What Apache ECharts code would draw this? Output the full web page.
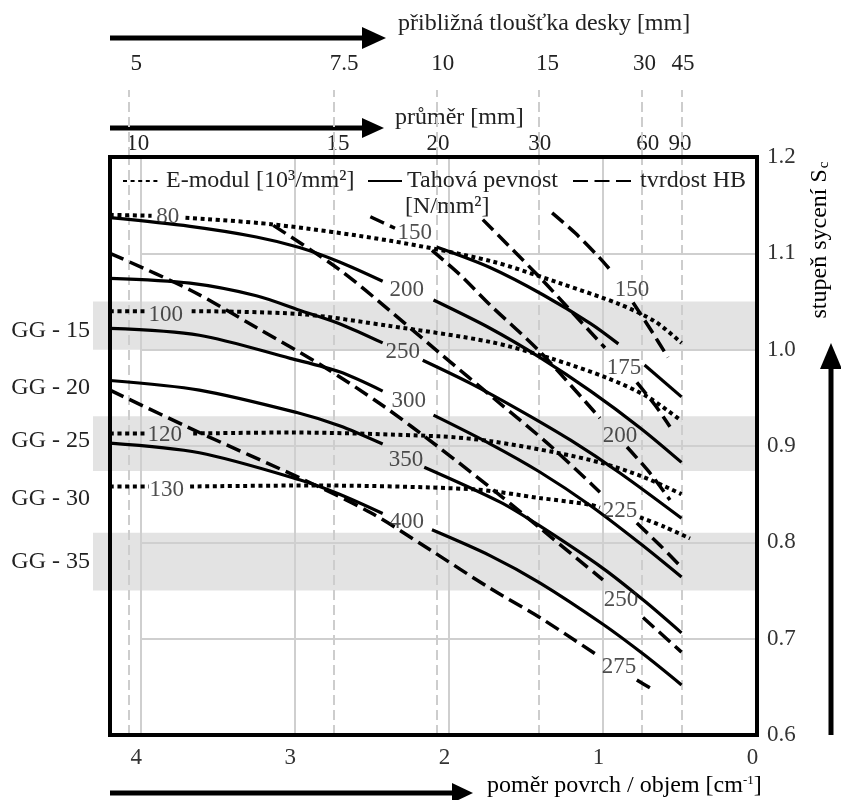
<!DOCTYPE html>
<html><head><meta charset="utf-8">
<script src="https://cdn.jsdelivr.net/npm/echarts@6/dist/echarts.min.js"></script>
<style>html,body{margin:0;padding:0;background:#fff}#c{width:841px;height:800px}</style>
</head><body><div id="c"></div>
<script>
// ---------- axes / ticks ----------
const xTicks = [4, 3, 2, 1, 0];
const gridX = [4, 3, 2, 1];
const gridY = [1.1, 1.0, 0.9, 0.8, 0.7];
const sizeLinePos = [4.08, 2.75, 2.08, 1.42, 0.75, 0.49];
const plateThickness = ['5', '7.5', '10', '15', '30', '45'];
const plateLabelPos = [4.03, 2.68, 2.04, 1.36, 0.73, 0.48];
const diameters = ['10', '15', '20', '30', '60', '90'];
const diameterLabelPos = [4.02, 2.72, 2.07, 1.41, 0.71, 0.50];
const gradeNames = ['GG - 15', 'GG - 20', 'GG - 25', 'GG - 30', 'GG - 35'];
const gradeLabelY = [1.02, 0.96, 0.905, 0.845, 0.78];
const gradeBands = [[1.0, 1.05], [0.874, 0.931], [0.75, 0.81]];

// ---------- E-modul (dotted) ----------
const eModul80 = [
  [[4.20,1.140],[3.93,1.139]],
  [[3.71,1.137],[3.14,1.130],[2.38,1.113],[1.73,1.092],[1.28,1.069],[0.89,1.047],[0.66,1.029],[0.49,1.007]]
];
const eModul100 = [
  [[4.20,1.040],[3.97,1.040]],
  [[3.67,1.040],[2.97,1.037],[2.38,1.0245],[1.73,1.008],[1.34,0.991],[0.97,0.9705],[0.71,0.951],[0.49,0.926]]
];
const eModul120 = [
  [[4.20,0.913],[3.97,0.913]],
  [[3.66,0.913],[3.03,0.914],[2.06,0.910],[1.73,0.905],[1.30,0.893],[1.00,0.882],[0.74,0.868],[0.49,0.850]]
];
const eModul130 = [
  [[4.20,0.858],[3.95,0.858]],
  [[3.68,0.858],[2.90,0.859],[1.84,0.855],[1.41,0.846],[1.08,0.839],[1.02,0.836]],
  [[0.76,0.826],[0.60,0.816],[0.435,0.804]]
];
const eModulLabels = ['80', '100', '120', '130'];
const eModulLabelPos = [[3.825,1.138],[3.838,1.036],[3.844,0.911],[3.831,0.854]];

// ---------- Tensile strength (solid) ----------
const tensile150 = [
  [[2.08,1.1065],[1.73,1.085],[1.39,1.057],[1.08,1.027],[0.90,1.006]],
  [[0.73,0.984],[0.49,0.951]]
];
const tensile200 = [
  [[4.20,1.137],[3.68,1.128],[3.25,1.117],[2.97,1.106],[2.71,1.091],[2.43,1.071]],
  [[2.10,1.0515],[1.73,1.022],[1.41,0.992],[1.08,0.957],[0.76,0.919],[0.49,0.883]]
];
const tensile250 = [
  [[4.20,1.074],[3.68,1.069],[3.25,1.056],[2.97,1.041],[2.71,1.027],[2.43,1.007]],
  [[2.17,0.989],[1.86,0.965],[1.54,0.937],[1.21,0.906],[0.89,0.872],[0.49,0.825]]
];
const tensile300 = [
  [[4.20,1.022],[3.62,1.015],[3.03,0.991],[2.71,0.977],[2.43,0.957]],
  [[2.10,0.932],[1.73,0.902],[1.41,0.873],[1.08,0.838],[0.76,0.799],[0.49,0.764]]
];
const tensile350 = [
  [[4.20,0.968],[3.62,0.958],[2.97,0.934],[2.71,0.921],[2.43,0.902]],
  [[2.16,0.878],[1.67,0.842],[1.41,0.817],[1.00,0.773],[0.73,0.739],[0.49,0.706]]
];
const tensile400 = [
  [[4.20,0.903],[3.62,0.893],[2.97,0.865],[2.71,0.850],[2.43,0.830]],
  [[2.11,0.813],[1.73,0.786],[1.41,0.758],[1.00,0.715],[0.73,0.683],[0.49,0.652]]
];
const tensileLabels = ['150', '200', '250', '300', '350', '400'];
const tensileLabelPos = [[2.221,1.121],[2.273,1.062],[2.299,0.998],[2.260,0.947],[2.279,0.886],[2.273,0.821]];

// ---------- Hardness HB (dashed) ----------
const hardness150 = [
  [[1.33,1.142],[1.18,1.121],[1.02,1.095],[0.935,1.0795]],
  [[0.805,1.049],[0.695,1.022],[0.578,0.992]]
];
const hardness175 = [
  [[1.78,1.135],[1.41,1.075],[1.195,1.038],[0.987,1.002]],
  [[0.78,0.966],[0.66,0.942],[0.565,0.920]]
];
const hardness200 = [
  [[2.51,1.138],[2.35,1.126]],
  [[2.11,1.103],[1.93,1.078],[1.73,1.046],[1.41,0.998],[1.02,0.929]],
  [[0.844,0.899],[0.695,0.872],[0.565,0.844]]
];
const hardness225 = [
  [[3.14,1.129],[2.71,1.083],[2.38,1.040],[2.06,0.9965],[1.69,0.947],[1.34,0.900],[1.02,0.852]],
  [[0.78,0.820],[0.63,0.797],[0.49,0.774]]
];
const hardness250 = [
  [[4.20,1.100],[3.68,1.062],[3.25,1.023],[2.82,0.983],[2.43,0.942],[2.06,0.898],[1.67,0.849],[1.41,0.815],[1.00,0.761]],
  [[0.74,0.722],[0.49,0.686]]
];
const hardness275 = [
  [[4.20,0.958],[3.62,0.914],[2.97,0.867],[2.51,0.831],[2.12,0.792],[1.73,0.752],[1.41,0.722],[1.02,0.681]],
  [[0.78,0.657],[0.695,0.649]]
];
const hardnessLabels = ['150', '175', '200', '225', '250', '275'];
const hardnessLabelPos = [[0.812,1.062],[0.864,0.981],[0.890,0.910],[0.890,0.833],[0.883,0.740],[0.896,0.671]];

// ---------- build ----------
const FONT = 'Liberation Serif';
const TXT = '#222';
const E_NAME = 'E-modul [10³/mm²]';
const T_NAME = 'Tahová pevnost';
const H_NAME = 'tvrdost HB';

const dottedStyle = {color: '#000', width: 4, type: [4, 3.6], cap: 'butt'};
const solidStyle = {color: '#000', width: 3.2, type: 'solid'};
const dashedStyle = {color: '#000', width: 3.5, type: [15, 6.5], cap: 'butt'};

function lookup(arr, names) {
  return function (v) {
    const i = arr.findIndex(p => Math.abs(p - v) < 1e-6);
    return i >= 0 ? names[i] : '';
  };
}

const series = [];
series.push({
  name: '_bands', type: 'line', xAxisIndex: 3, yAxisIndex: 2, data: [[0, 0.6], [1, 0.6]],
  symbol: 'none', lineStyle: {opacity: 0}, silent: true, z: 1,
  markArea: {silent: true, z: 1, itemStyle: {color: '#e3e3e3'},
    data: gradeBands.map(b => [{yAxis: b[0]}, {yAxis: b[1]}])}
});
const gridSolid = {color: '#cfcfcf', width: 2, type: 'solid'};
const gridDashed = {color: '#cdcdcd', width: 2, type: [10, 5]};
series.push({
  name: '_grid', type: 'line', xAxisIndex: 0, yAxisIndex: 0, data: [[0, 0.6]],
  symbol: 'none', lineStyle: {opacity: 0}, silent: true, z: 2,
  markLine: {silent: true, z: 2, symbol: ['none', 'none'], label: {show: false}, animation: false,
    data: [].concat(
      gridX.map(v => ({xAxis: v, lineStyle: gridSolid})),
      gridY.map(v => [{coord: [4, v], lineStyle: gridSolid}, {coord: [0, v]}]),
      sizeLinePos.map(v => ({xAxis: v, lineStyle: gridDashed}))
    )}
});
series.push({
  name: '_gridTop', type: 'line', xAxisIndex: 1, yAxisIndex: 1, data: [[0, 0]],
  symbol: 'none', lineStyle: {opacity: 0}, silent: true, z: 2,
  markLine: {silent: true, z: 2, symbol: ['none', 'none'], label: {show: false}, animation: false,
    data: sizeLinePos.map(v => ({xAxis: v, lineStyle: gridDashed}))}
});

function addGroup(name, lines, style) {
  lines.forEach(line => line.forEach(seg => {
    series.push({
      name: name, type: 'line', xAxisIndex: 0, yAxisIndex: 0, data: seg,
      symbol: 'none', smooth: 0.3, lineStyle: style, silent: true, z: 3
    });
  }));
}
addGroup(E_NAME, [eModul80, eModul100, eModul120, eModul130], dottedStyle);
addGroup(T_NAME, [tensile150, tensile200, tensile250, tensile300, tensile350, tensile400], solidStyle);
addGroup(H_NAME, [hardness150, hardness175, hardness200, hardness225, hardness250, hardness275], dashedStyle);

function addLabels(names, pos) {
  series.push({
    name: '_labels', type: 'scatter', xAxisIndex: 0, yAxisIndex: 0, z: 4, silent: true,
    symbolSize: 1, itemStyle: {color: 'rgba(0,0,0,0)'},
    label: {show: true, position: 'inside', formatter: '{b}', fontFamily: FONT, fontSize: 23, color: TXT},
    data: names.map((n, i) => ({name: n, value: pos[i]}))
  });
}
addLabels(eModulLabels, eModulLabelPos);
addLabels(tensileLabels, tensileLabelPos);
addLabels(hardnessLabels, hardnessLabelPos);

const legendBase = {
  orient: 'horizontal', padding: 0, itemGap: 0, itemHeight: 12, selectedMode: false,
  textStyle: {fontFamily: FONT, fontSize: 24, color: TXT},
  itemStyle: {color: 'rgba(0,0,0,0)', borderWidth: 0}
};

const option = {
  backgroundColor: '#fff',
  animation: false,
  textStyle: {fontFamily: FONT},
  grid: [
    {left: 110, right: 84, top: 157, bottom: 65, show: true, borderColor: '#000', borderWidth: 4, backgroundColor: 'transparent', z: 5},
    {left: 110, right: 84, top: 90, height: 67, show: false},
    {left: 93, right: 85, top: 157, bottom: 65, show: false}
  ],
  xAxis: [
    {gridIndex: 0, type: 'value', min: 0, max: 4.2, inverse: true, position: 'bottom',
      axisLine: {show: false}, axisTick: {show: false}, splitLine: {show: false},
      axisLabel: {customValues: xTicks, margin: 11, fontSize: 23, color: '#333', fontFamily: FONT, padding: [0, 9, 0, 0]}},
    {gridIndex: 1, type: 'value', min: 0, max: 4.2, inverse: true, position: 'top',
      axisLine: {show: true, lineStyle: {color: '#000', width: 4}}, axisTick: {show: false}, splitLine: {show: false},
      axisLabel: {customValues: plateLabelPos, formatter: lookup(plateLabelPos, plateThickness), margin: 15, fontSize: 23, color: TXT, fontFamily: FONT}},
    {gridIndex: 1, type: 'value', min: 0, max: 4.2, inverse: true, position: 'bottom',
      axisLine: {show: false}, axisTick: {show: false}, splitLine: {show: false},
      axisLabel: {inside: true, customValues: diameterLabelPos, formatter: lookup(diameterLabelPos, diameters), margin: 2, fontSize: 23, color: TXT, fontFamily: FONT}},
    {gridIndex: 2, type: 'value', min: 0, max: 1, show: false}
  ],
  yAxis: [
    {gridIndex: 0, type: 'value', min: 0.6, max: 1.2, interval: 0.1, position: 'right',
      axisLine: {show: false}, axisTick: {show: false}, splitLine: {show: false},
      axisLabel: {margin: 10, fontSize: 23, color: '#333', fontFamily: FONT, formatter: v => v.toFixed(1)}},
    {gridIndex: 1, type: 'value', min: 0, max: 1, show: false},
    {gridIndex: 2, type: 'value', min: 0.6, max: 1.2, position: 'left',
      axisLine: {show: false}, axisTick: {show: false}, splitLine: {show: false},
      axisLabel: {customValues: gradeLabelY, formatter: lookup(gradeLabelY, gradeNames), margin: 3, fontSize: 24, color: TXT, fontFamily: FONT}}
  ],
  legend: [
    Object.assign({}, legendBase, {data: [E_NAME], left: 122, top: 169, itemWidth: 38}),
    Object.assign({}, legendBase, {data: [T_NAME], left: 367, top: 169, itemWidth: 34}),
    Object.assign({}, legendBase, {data: [H_NAME], left: 572, top: 169, itemWidth: 62})
  ],
  graphic: [
    {type: 'text', x: 405, y: 207, style: {text: '[N/mm²]', font: '24px "Liberation Serif"', fill: TXT, textVerticalAlign: 'middle'}},
    {type: 'text', x: 398, y: 24, style: {text: 'přibližná tloušťka desky [mm]', font: '24px "Liberation Serif"', fill: TXT, textVerticalAlign: 'middle'}},
    {type: 'text', x: 395, y: 118, style: {text: 'průměr [mm]', font: '24px "Liberation Serif"', fill: TXT, textVerticalAlign: 'middle'}},
    {type: 'text', x: 487, y: 786, style: {
      text: '{a|poměr povrch / objem [cm}{s|-1}{a|]}', textVerticalAlign: 'middle',
      rich: {a: {fontFamily: FONT, fontSize: 24, color: TXT}, s: {fontFamily: FONT, fontSize: 13, color: TXT, verticalAlign: 'top', padding: [0, 0, 10, 0]}}}},
    {type: 'text', x: 820, y: 240, rotation: Math.PI / 2, style: {
      text: '{a|stupeň sycení S}{s|c}', textAlign: 'center', textVerticalAlign: 'middle',
      rich: {a: {fontFamily: FONT, fontSize: 24, color: TXT}, s: {fontFamily: FONT, fontSize: 15, color: TXT, verticalAlign: 'bottom', padding: [8, 0, 0, 1]}}}},
    {type: 'line', shape: {x1: 110, y1: 38, x2: 366, y2: 38}, style: {stroke: '#000', lineWidth: 5}},
    {type: 'polygon', shape: {points: [[362, 27], [386, 38], [362, 49]]}, style: {fill: '#000'}},
    {type: 'line', shape: {x1: 110, y1: 128, x2: 366, y2: 128}, style: {stroke: '#000', lineWidth: 5}},
    {type: 'polygon', shape: {points: [[362, 118], [384, 128], [362, 138]]}, style: {fill: '#000'}},
    {type: 'line', shape: {x1: 110, y1: 793, x2: 456, y2: 793}, style: {stroke: '#000', lineWidth: 5}},
    {type: 'polygon', shape: {points: [[452, 783], [473, 793], [452, 803]]}, style: {fill: '#000'}},
    {type: 'line', shape: {x1: 831, y1: 735, x2: 831, y2: 366}, style: {stroke: '#000', lineWidth: 5}},
    {type: 'polygon', shape: {points: [[820, 369], [831, 343], [842, 369]]}, style: {fill: '#000'}}
  ],
  series: series
};

const chart = echarts.init(document.getElementById('c'), null, {renderer: 'canvas'});
chart.setOption(option);
</script></body></html>
